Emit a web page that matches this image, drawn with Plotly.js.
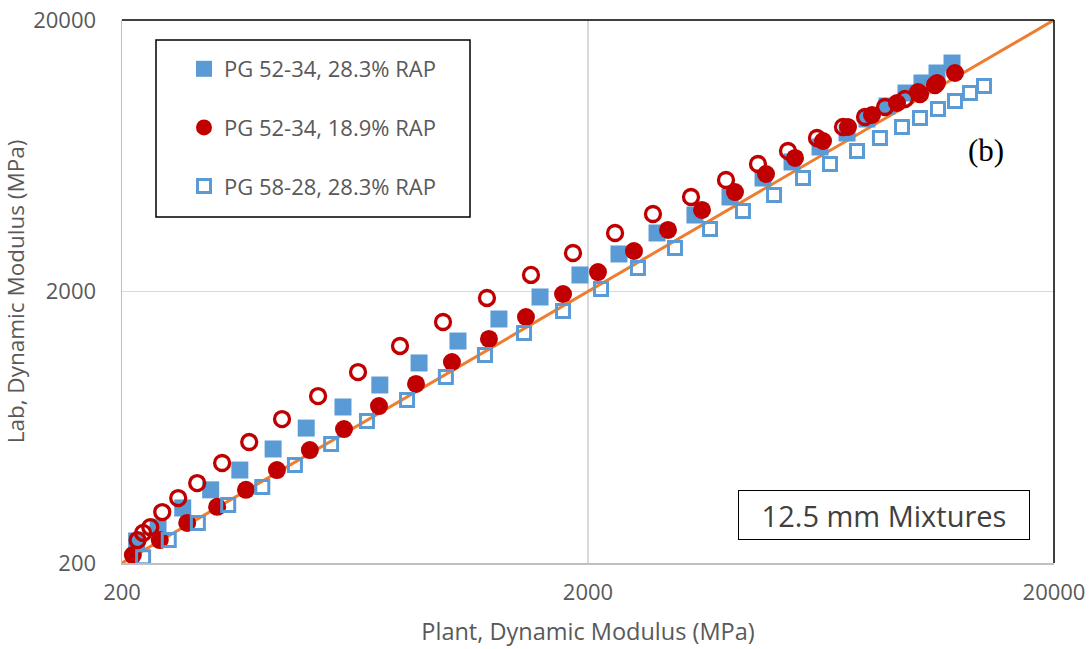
<!DOCTYPE html>
<html>
<head>
<meta charset="utf-8">
<script src="https://cdn.plot.ly/plotly-3.0.1.min.js"></script>
<style>
  html, body { margin: 0; padding: 0; background: #ffffff; }
  #chart { width: 1091px; height: 649px; }
</style>
</head>
<body>
<div id="chart"></div>
<script>
// PG 52-34, 28.3% RAP (filled blue squares)
const plantA = [215, 239, 270, 310, 358, 422, 497, 596, 715, 868, 1052, 1288, 1578, 1922, 2331, 2813, 3393, 4034, 4749, 5481, 6294, 7193, 7937, 8762, 9625, 10416, 11220, 12083];
const labA   = [241, 271, 319, 372, 440, 526, 628, 751, 905, 1091, 1314, 1584, 1909, 2301, 2749, 3285, 3826, 4458, 5237, 5998, 6813, 7670, 8638, 9643, 10767, 11722, 12758, 13886];

// PG 52-34, 18.9% RAP (filled red circles)
const plantB = [211, 241, 276, 320, 369, 430, 506, 599, 712, 855, 1021, 1226, 1472, 1768, 2101, 2510, 2970, 3513, 4135, 4820, 5564, 6388, 7228, 8138, 9207, 10214, 11220, 12263];
const labB   = [214, 243, 281, 322, 372, 440, 521, 623, 757, 913, 1100, 1337, 1611, 1958, 2359, 2820, 3370, 3993, 4650, 5418, 6206, 7168, 8071, 8935, 9893, 10860, 11722, 12758];

// PG 58-28, 28.3% RAP (open blue squares)
const plantC = [222, 252, 291, 338, 400, 470, 562, 671, 818, 991, 1202, 1458, 1768, 2133, 2560, 3074, 3655, 4301, 5015, 5787, 6612, 7556, 8463, 9437, 10314, 11275, 12263, 13204, 14151];
const labC   = [210, 243, 281, 327, 381, 459, 549, 667, 797, 968, 1167, 1407, 1695, 2043, 2441, 2893, 3398, 3959, 4535, 5237, 5897, 6585, 7353, 8071, 8712, 9402, 10062, 10767, 11427];

// unlabelled series (open red circles)
const plantD = [216, 222, 230, 244, 264, 290, 328, 375, 441, 527, 642, 790, 977, 1214, 1509, 1857, 2286, 2757, 3327, 3955, 4632, 5373, 6200, 7050, 7862, 8678, 9579, 10314, 11110];
const labD   = [243, 258, 271, 308, 347, 394, 467, 558, 678, 824, 1010, 1260, 1544, 1893, 2301, 2772, 3285, 3859, 4458, 5149, 5897, 6585, 7353, 8071, 8785, 9563, 10233, 10676, 11526];

// line of equality
const equalityX = [200, 20000];
const equalityY = [200, 20000];

const tickVals = [200, 2000, 20000];
const tickText = ['200', '2000', '20000'];

const seriesNames = ['PG 52-34, 28.3% RAP', 'PG 52-34, 18.9% RAP', 'PG 58-28, 28.3% RAP'];

const blue = '#5b9bd5';
const red = '#c00000';
const orange = '#ed7d31';
const grayText = '#595959';
const FONT = 'Open Sans, sans-serif';

const traces = [
  {
    x: equalityX, y: equalityY, mode: 'lines', type: 'scatter',
    line: {color: orange, width: 3}, showlegend: false, hoverinfo: 'skip'
  },
  {
    x: plantA, y: labA, mode: 'markers', type: 'scatter', name: seriesNames[0],
    legendgroup: 'a',
    marker: {symbol: 'square', size: 17, color: blue, line: {width: 0}}
  },
  {
    x: plantD, y: labD, mode: 'markers', type: 'scatter', name: 'open red',
    legendgroup: 'd', showlegend: false,
    marker: {symbol: 'circle-open', size: 15, color: red, line: {width: 3.3, color: red}}
  },
  {
    x: plantB, y: labB, mode: 'markers', type: 'scatter', name: seriesNames[1],
    legendgroup: 'b',
    marker: {symbol: 'circle', size: 18, color: red, line: {width: 0}}
  },
  {
    x: plantC, y: labC, mode: 'markers', type: 'scatter', name: seriesNames[2],
    legendgroup: 'c',
    marker: {symbol: 'square-open', size: 13, color: blue, line: {width: 3, color: blue}}
  }
];

const W = 932, H = 543; // plot area in px
function px2paperX(px) { return (px - 122) / W; }
function px2paperY(py) { return (563 - py) / H; }

const layout = {
  width: 1091, height: 649,
  margin: {l: 122, r: 37, t: 20, b: 86, pad: 0},
  paper_bgcolor: '#ffffff', plot_bgcolor: '#ffffff',
  font: {family: FONT, color: grayText},
  showlegend: true,
  legend: {
    x: px2paperX(184), y: px2paperY(48), xanchor: 'left', yanchor: 'top',
    bgcolor: 'rgba(0,0,0,0)', borderwidth: 0,
    font: {family: FONT, size: 22, color: grayText},
    traceorder: 'grouped', tracegroupgap: 27
  },
  xaxis: {
    type: 'log', range: [Math.log10(200), Math.log10(20000)],
    tickvals: tickVals, ticktext: tickText,
    tickfont: {family: FONT, size: 22, color: grayText},
    showgrid: true, gridcolor: '#d9d9d9', gridwidth: 1.5,
    showline: true, linecolor: '#bfbfbf', linewidth: 1.5,
    ticks: '', ticklabelstandoff: 9,
    zeroline: false,
    title: {text: 'Plant, Dynamic Modulus (MPa)', font: {family: FONT, size: 23.5, color: grayText}, standoff: 18}
  },
  yaxis: {
    type: 'log', range: [Math.log10(200), Math.log10(20000)],
    tickvals: tickVals, ticktext: tickText,
    tickfont: {family: FONT, size: 22, color: grayText},
    showgrid: true, gridcolor: '#d9d9d9', gridwidth: 1.5,
    showline: true, linecolor: '#bfbfbf', linewidth: 1.5,
    ticks: '', ticklabelstandoff: 20,
    zeroline: false,
    title: {text: 'Lab, Dynamic Modulus (MPa)', font: {family: FONT, size: 22.5, color: grayText}, standoff: 6}
  },
  shapes: [
    // top and right frame lines
    {type: 'line', xref: 'paper', yref: 'paper', x0: 0, x1: 1, y0: 1, y1: 1, line: {color: '#000000', width: 1.5}},
    {type: 'line', xref: 'paper', yref: 'paper', x0: 1, x1: 1, y0: 0, y1: 1, line: {color: '#000000', width: 1.5}},
    // legend box
    {type: 'rect', xref: 'paper', yref: 'paper',
     x0: px2paperX(156), x1: px2paperX(470), y0: px2paperY(217), y1: px2paperY(40),
     line: {color: '#000000', width: 1.5}, fillcolor: 'rgba(0,0,0,0)'}
  ],
  annotations: [
    {text: '(b)', xref: 'paper', yref: 'paper', x: px2paperX(986), y: px2paperY(150),
     xanchor: 'center', yanchor: 'middle', showarrow: false,
     font: {family: 'Liberation Serif, Times New Roman, serif', size: 31, color: '#000000'}},
    {text: '12.5 mm Mixtures', xref: 'paper', yref: 'paper', x: px2paperX(884), y: px2paperY(515),
     xanchor: 'center', yanchor: 'middle', showarrow: false,
     font: {family: FONT, size: 29, color: '#404040'},
     bordercolor: '#000000', borderwidth: 1, borderpad: 7, width: 276, height: 34, bgcolor: '#ffffff'}
  ]
};

Plotly.newPlot('chart', traces, layout, {displayModeBar: false, staticPlot: true});
</script>
</body>
</html>
